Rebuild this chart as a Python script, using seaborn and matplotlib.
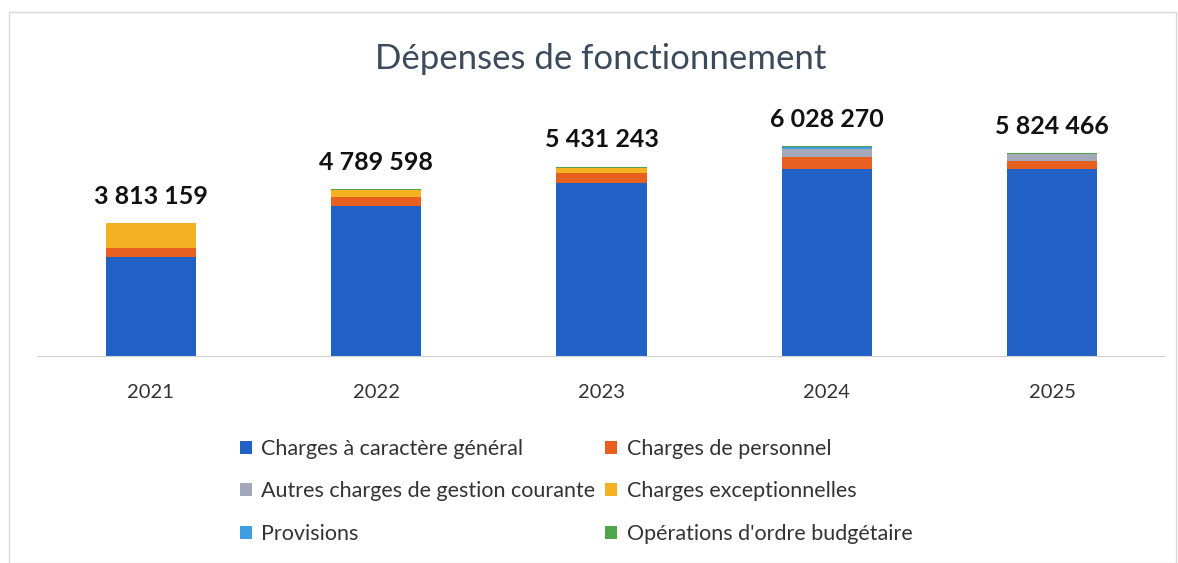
import matplotlib
matplotlib.use("Agg")
import matplotlib.pyplot as plt
import seaborn as sns
import numpy as np
from matplotlib.patches import Patch, Rectangle

sns.set_style("white")
plt.rcParams["font.family"] = ["Lato", "DejaVu Sans"]

years = ["2021", "2022", "2023", "2024", "2025"]

charges_general = [2833159, 4299598, 4971243, 5378270, 5364466]
charges_personnel = [260000, 260000, 270000, 330000, 220000]
autres_charges = [0, 0, 0, 240000, 210000]
charges_exceptionnelles = [720000, 200000, 150000, 0, 0]
provisions = [0, 0, 0, 50000, 0]
operations_ordre = [0, 30000, 40000, 30000, 30000]

series_names = ["Charges à caractère général", "Charges de personnel",
                "Autres charges de gestion courante", "Charges exceptionnelles",
                "Provisions", "Opérations d'ordre budgétaire"]
series_values = [charges_general, charges_personnel, autres_charges,
                 charges_exceptionnelles, provisions, operations_ordre]
series_colors = ["#2161c6", "#e8601f", "#a3a9b8", "#f4b223", "#3d9ee2", "#4fa64a"]

fig = plt.figure(figsize=(11.78, 5.63), dpi=100)
ax = fig.add_axes([0.0323, 0.3677, 0.9567, 0.4334])

bottom = np.zeros(len(years))
for name, vals, col in zip(series_names, series_values, series_colors):
    vals = np.array(vals, dtype=float)
    sns.barplot(x=years, y=vals, bottom=bottom, color=col, width=0.4,
                saturation=1, ax=ax, errorbar=None, linewidth=0)
    bottom = bottom + vals

for i, total in enumerate(bottom):
    label = f"{int(total):,}".replace(",", " ")
    ax.text(i, total + 440000, label, ha="center", va="bottom",
            fontsize=18, fontweight="bold", color="#111111")

ax.set_ylim(0, 7000000)
ax.set_xlim(-0.5, 4.5)
ax.set_yticks([])
ax.set_ylabel("")
ax.tick_params(axis="x", length=0, labelsize=14.5, colors="#333333", pad=20)
for s in ["top", "right", "left"]:
    ax.spines[s].set_visible(False)
ax.spines["bottom"].set_color("#d0d0d0")

fig.text(0.51, 0.895, "Dépenses de fonctionnement", ha="center", va="center",
         fontsize=25, color="#3b4a5c")

# legend, row-major order in two columns
handles = [Patch(facecolor=c, edgecolor="none") for c in series_colors]
order = [0, 2, 4, 1, 3, 5]
fig.legend([handles[i] for i in order], [series_names[i] for i in order],
           ncol=2, loc="upper left", bbox_to_anchor=(0.187, 0.255),
           frameon=False, fontsize=15.5, labelcolor="#333333",
           handlelength=0.55, handleheight=0.55, handletextpad=0.45,
           labelspacing=1.05, columnspacing=0.45)

fig.add_artist(Rectangle((0.008, 0.0), 0.99, 0.978, transform=fig.transFigure,
                         fill=False, edgecolor="#d8d8d8", linewidth=1))

fig.savefig("out.png", dpi=100)
